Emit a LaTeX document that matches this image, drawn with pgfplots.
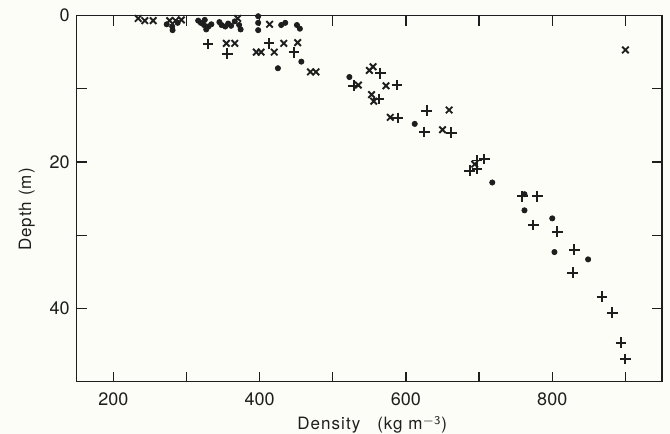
\documentclass[border=0pt]{standalone}
\usepackage{fontspec}
\setmainfont{TeX Gyre Heros}
\usepackage{pgfplots}
\pgfplotsset{compat=1.18}
\usetikzlibrary{backgrounds}
\definecolor{paper}{RGB}{253,253,248}
\definecolor{ink}{RGB}{30,30,30}

\begin{document}
\begin{tikzpicture}
\begin{axis}[
    name=ax,
    scale only axis,
    width=292.5pt, height=183pt,
    xmin=150, xmax=950,
    ymin=0, ymax=50,
    y dir=reverse,
    axis line style={ink, line width=0.7pt},
    tick style={ink, line width=0.7pt},
    tick align=inside,
    major tick length=5pt,
    xtick={200,300,...,900},
    xticklabels={200,,400,,600,,800,},
    ytick={0,10,20,30,40},
    yticklabels={0,,20,,40},
    /pgf/number format/assume math mode=true,
    tick label style={font=\fontsize{9}{10}\selectfont, text=ink},
    xticklabel style={yshift=-2pt},
    xlabel={Density\quad(kg m$^{\mathsf{-3}}$)},
    ylabel={Depth (m)},
    label style={font=\fontsize{8.5}{10}\selectfont\addfontfeature{LetterSpace=6}, text=ink},
    xlabel style={at={(axis description cs:0.505,0)}, anchor=base, yshift=-24pt},
    ylabel style={at={(axis description cs:-0.0855,0.47)}, anchor=center},
    clip=false,
]
% dots
\addplot[only marks, mark=*, mark size=1.3pt, ink] coordinates {
(280.5,1.5)(281,2.0)(288,1.0)(273,1.2)(316,0.7)(319.6,1.0)(324,1.3)(327,1.9)
(330,1.5)(334,1.2)(325,0.6)(345,0.9)(348,1.3)(353,1.5)(357,1.1)(361,1.4)
(366,0.8)(372,1.3)(374,1.9)(398,0.1)(398,1.0)(398,2.0)(429.5,1.3)(435,1.0)
(451,1.3)(455,1.8)(457,6.3)(425,7.2)(522.7,8.4)(612,14.8)(718,22.8)
(762,24.4)(762,26.6)(800,27.7)(803,32.3)(849,33.3)
};
% crosses (x)
\addplot[only marks, mark=x, mark size=2.3pt, line width=0.95pt, ink] coordinates {
(234,0.4)(243,0.7)(254.5,0.7)(277,0.7)(285,0.7)(293,0.6)(370,0.4)(413.6,1.2)
(354.5,3.8)(366,3.8)(433,3.8)(452,3.7)(395.5,5.0)(402,5.0)(420,5.0)
(469.5,7.7)(477,7.7)(535,9.5)(550,7.5)(555,7.0)(572.7,9.6)(553,10.8)
(556,11.7)(578.6,13.9)(659,12.9)(650,15.6)(694,20.3)(900,4.7)
};
% plus (+)
\addplot[only marks, mark=+, mark size=2.7pt, line width=0.95pt, ink] coordinates {
(329.5,3.9)(356,5.2)(412.7,3.8)(447,5.0)(528.6,9.6)(565,7.9)(587.7,9.5)
(563,11.4)(628.6,13.0)(588.6,14.0)(625,15.9)(662,16.0)(697,19.8)(707,19.6)
(687,21.2)(697,20.9)(759,24.7)(779.6,24.7)(774,28.6)(807,29.5)(830,32.0)
(828,35.1)(868,38.4)(882,40.6)(894,44.7)(900,46.9)
};
\end{axis}
\pgfresetboundingbox
\path ([shift={(-38.35pt,-26pt)}]ax.south west) rectangle ([shift={(4pt,7.75pt)}]ax.north east);
\begin{scope}[on background layer]
\fill[paper] ([shift={(-38.35pt,-26pt)}]ax.south west) rectangle ([shift={(4pt,7.75pt)}]ax.north east);
\end{scope}
\end{tikzpicture}
\end{document}
